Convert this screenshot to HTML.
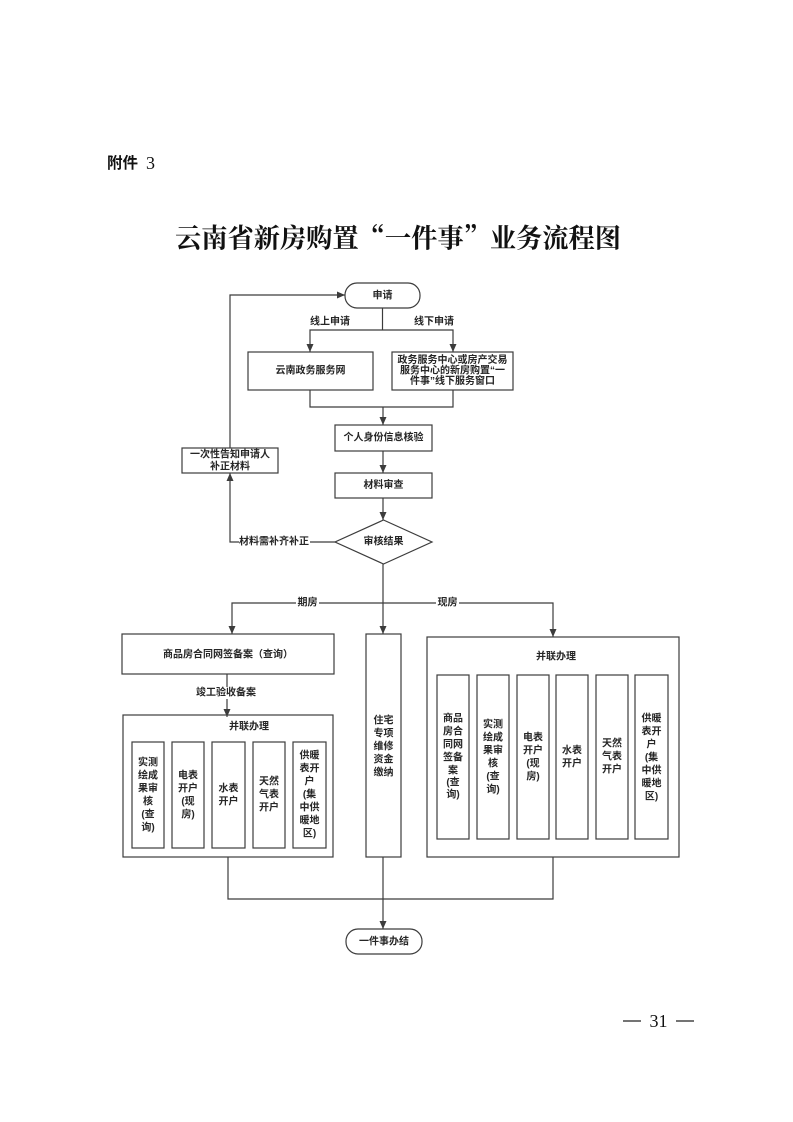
<!DOCTYPE html>
<html><head><meta charset="utf-8"><style>
html,body{margin:0;padding:0;background:#fff;}
svg{display:block;}
.t{font-family:"Liberation Sans","Noto Sans CJK SC",sans-serif;font-size:10px;font-weight:bold;fill:#262626;}
</style></head><body>
<svg width="793" height="1122" viewBox="0 0 793 1122" xmlns="http://www.w3.org/2000/svg">
<rect width="793" height="1122" fill="#fff"/>
<!-- header -->
<text x="107" y="168" font-family="'Liberation Sans','Noto Sans CJK SC',sans-serif" font-weight="bold" font-size="15.5" fill="#111">附件</text>
<text x="146" y="169" font-family="'Liberation Serif','Noto Serif CJK SC',serif" font-size="18" fill="#111">3</text>
<text x="175" y="236" dominant-baseline="central" textLength="446" lengthAdjust="spacingAndGlyphs" font-family="'Noto Serif CJK SC',serif" font-weight="bold" font-size="26.5" fill="#111">云南省新房购置“一件事”业务流程图</text>

<g stroke="#3c3c3c" stroke-width="1.2" fill="none">
  <!-- start -->
  <rect x="345" y="283" width="75" height="25" rx="12"/>
  <polyline points="382.5,308 382.5,330"/>
  <polyline points="310,352 310,330 453,330 453,352"/>
  <rect x="248" y="352" width="125" height="38"/>
  <rect x="392" y="352" width="121" height="38"/>
  <polyline points="310,390 310,407 453,407 453,390"/>
  <polyline points="383,407 383,425"/>
  <rect x="335" y="425" width="97" height="26"/>
  <polyline points="383,451 383,473"/>
  <rect x="335" y="473" width="97" height="25"/>
  <polyline points="383,498 383,520"/>
  <polygon points="383.5,520 432,542 383.5,564 335,542"/>
  <!-- loop -->
  <polyline points="335,542 230,542 230,473"/>
  <rect x="182" y="448" width="96" height="25"/>
  <polyline points="230,448 230,295 345,295"/>
  <!-- split -->
  <polyline points="383,564 383,634"/>
  <polyline points="232,634 232,603 553,603 553,637"/>
  <rect x="122" y="634" width="212" height="40"/>
  <polyline points="227,674 227,717"/>
  <rect x="123" y="715" width="210" height="142"/>
  <rect x="132" y="742" width="32" height="106"/>
  <rect x="172" y="742" width="32" height="106"/>
  <rect x="212" y="742" width="33" height="106"/>
  <rect x="253" y="742" width="32" height="106"/>
  <rect x="293" y="742" width="33" height="106"/>
  <rect x="366" y="634" width="35" height="223"/>
  <rect x="427" y="637" width="252" height="220"/>
  <rect x="437" y="675" width="32" height="164"/>
  <rect x="477" y="675" width="32" height="164"/>
  <rect x="517" y="675" width="32" height="164"/>
  <rect x="556" y="675" width="32" height="164"/>
  <rect x="596" y="675" width="32" height="164"/>
  <rect x="635" y="675" width="33" height="164"/>
  <!-- bottom -->
  <polyline points="228,857 228,899 553,899 553,857"/>
  <polyline points="383,857 383,929"/>
  <rect x="346" y="929" width="76" height="25" rx="12"/>
</g>

<!-- arrowheads -->
<g fill="#3c3c3c">
  <polygon points="337,291.5 337,298.5 345,295"/>
  <polygon points="306.5,344 313.5,344 310,352"/>
  <polygon points="449.5,344 456.5,344 453,352"/>
  <polygon points="379.5,417 386.5,417 383,425"/>
  <polygon points="379.5,465 386.5,465 383,473"/>
  <polygon points="379.5,512 386.5,512 383,520"/>
  <polygon points="226.5,481 233.5,481 230,473"/>
  <polygon points="379.5,626 386.5,626 383,634"/>
  <polygon points="228.5,626 235.5,626 232,634"/>
  <polygon points="549.5,629 556.5,629 553,637"/>
  <polygon points="223.5,709 230.5,709 227,717"/>
  <polygon points="379.5,921 386.5,921 383,929"/>
</g>

<!-- label backgrounds -->
<g fill="#fff">
  <rect x="239" y="536" width="71" height="12"/>
  <rect x="296" y="597" width="23" height="12"/>
  <rect x="436" y="597" width="23" height="12"/>
  <rect x="194" y="687" width="64" height="12"/>
</g>

<g class="t" text-anchor="middle" dominant-baseline="central">
  <text x="382.5" y="296">申请</text>
  <text x="330" y="322">线上申请</text>
  <text x="434" y="322">线下申请</text>
  <text x="310.5" y="371">云南政务服务网</text>
  <text x="452.5" y="360.5">政务服务中心或房产交易</text>
  <text x="452.5" y="371">服务中心的新房购置“一</text>
  <text x="452.5" y="381.5">件事”线下服务窗口</text>
  <text x="383.5" y="438">个人身份信息核验</text>
  <text x="383.5" y="485.5">材料审查</text>
  <text x="383.5" y="542">审核结果</text>
  <text x="274" y="542">材料需补齐补正</text>
  <text x="230" y="455">一次性告知申请人</text>
  <text x="230" y="467">补正材料</text>
  <text x="307.5" y="603">期房</text>
  <text x="447.5" y="603">现房</text>
  <text x="228" y="655">商品房合同网签备案（查询）</text>
  <text x="226" y="693">竣工验收备案</text>
  <text x="249" y="727">并联办理</text>
  <text x="556" y="657">并联办理</text>
  <text x="384" y="942">一件事办结</text>
  <!-- 住宅 -->
  <text x="383.5" y="721">住宅</text>
  <text x="383.5" y="734">专项</text>
  <text x="383.5" y="747">维修</text>
  <text x="383.5" y="760">资金</text>
  <text x="383.5" y="773">缴纳</text>
  <!-- left group -->
  <text x="148" y="763">实测</text>
  <text x="148" y="776">绘成</text>
  <text x="148" y="789">果审</text>
  <text x="148" y="802">核</text>
  <text x="148" y="815">(查</text>
  <text x="148" y="828">询)</text>
  <text x="188" y="776">电表</text>
  <text x="188" y="789">开户</text>
  <text x="188" y="802">(现</text>
  <text x="188" y="815">房)</text>
  <text x="228.5" y="789">水表</text>
  <text x="228.5" y="802">开户</text>
  <text x="269" y="782">天然</text>
  <text x="269" y="795">气表</text>
  <text x="269" y="808">开户</text>
  <text x="309.5" y="756">供暖</text>
  <text x="309.5" y="769">表开</text>
  <text x="309.5" y="782">户</text>
  <text x="309.5" y="795">(集</text>
  <text x="309.5" y="808">中供</text>
  <text x="309.5" y="821">暖地</text>
  <text x="309.5" y="834">区)</text>
  <!-- right group -->
  <text x="453" y="719">商品</text>
  <text x="453" y="732">房合</text>
  <text x="453" y="745">同网</text>
  <text x="453" y="758">签备</text>
  <text x="453" y="771">案</text>
  <text x="453" y="783">(查</text>
  <text x="453" y="795">询)</text>
  <text x="493" y="725">实测</text>
  <text x="493" y="738">绘成</text>
  <text x="493" y="751">果审</text>
  <text x="493" y="764">核</text>
  <text x="493" y="777">(查</text>
  <text x="493" y="790">询)</text>
  <text x="533" y="738">电表</text>
  <text x="533" y="751">开户</text>
  <text x="533" y="764">(现</text>
  <text x="533" y="777">房)</text>
  <text x="572" y="751">水表</text>
  <text x="572" y="764">开户</text>
  <text x="612" y="744">天然</text>
  <text x="612" y="757">气表</text>
  <text x="612" y="770">开户</text>
  <text x="651.5" y="719">供暖</text>
  <text x="651.5" y="732">表开</text>
  <text x="651.5" y="745">户</text>
  <text x="651.5" y="758">(集</text>
  <text x="651.5" y="771">中供</text>
  <text x="651.5" y="784">暖地</text>
  <text x="651.5" y="797">区)</text>
</g>

<!-- page number -->
<g stroke="#222" stroke-width="1.2">
  <line x1="623" y1="1021" x2="641" y2="1021"/>
  <line x1="676" y1="1021" x2="694" y2="1021"/>
</g>
<text x="658.5" y="1027" text-anchor="middle" font-family="'Liberation Serif',serif" font-size="18" fill="#111">31</text>
</svg>
</body></html>
